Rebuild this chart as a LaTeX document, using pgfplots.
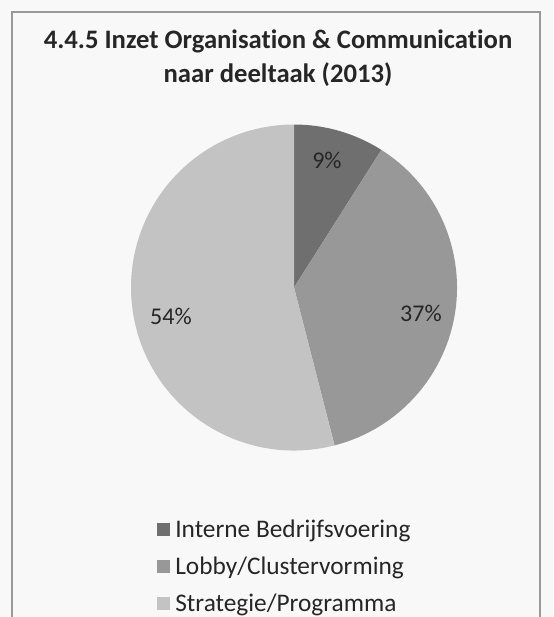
\documentclass[border=0pt]{standalone}
\usepackage{pgfplots}
\pgfplotsset{compat=1.18}
\usepackage{fontspec}
\setmainfont{Carlito}[Ligatures=NoCommon]
\definecolor{cA}{HTML}{6F6F6F}
\definecolor{cB}{HTML}{989898}
\definecolor{cC}{HTML}{C3C3C3}
\definecolor{txt}{HTML}{262626}
\definecolor{bg}{HTML}{F8F8F8}
\definecolor{frame}{HTML}{9A9A9A}
\begin{document}
\begin{tikzpicture}[x=0.75pt,y=-0.75pt]
\useasboundingbox (0,0) rectangle (553,617);
\fill[bg] (0,0) rectangle (553,617);
\begin{scope}
\clip (0,0) rectangle (553,617);
\draw[frame, line width=1.2pt] (12,12) rectangle (540,660);
\end{scope}
\node[font=\bfseries\fontsize{20}{26}\selectfont, align=center, text=txt] at (278,58) {4.4.5 Inzet Organisation \& Communication\\naar deeltaak (2013)};
\coordinate (pc) at (294,287.5);
\begin{axis}[
  at={(pc)}, anchor=center,
  x=122.25pt, y=122.25pt,
  xmin=-1, xmax=1, ymin=-1, ymax=1,
  hide axis, clip=false,
  legend style={draw=none, fill=none, at={(0.068,-0.195)}, anchor=north west,
    font=\fontsize{19}{23}\selectfont, text=txt, row sep=9.1pt,
    legend cell align=left},
  legend image code/.code={\fill[#1] (0pt,-4.5pt) rectangle (9pt,4.5pt); \path (11pt,0pt);},
]
\addlegendimage{cA}
\addlegendentry{Interne Bedrijfsvoering}
\addlegendimage{cB}
\addlegendentry{Lobby/Clustervorming}
\addlegendimage{cC}
\addlegendentry{Strategie/Programma}
% values: 9, 37, 54 (percent)
\fill[cA] (axis cs:0,0) -- ++(90:122.25pt) arc[start angle=90, end angle={90-9*3.6}, radius=122.25pt] -- cycle;
\fill[cB] (axis cs:0,0) -- ++({90-9*3.6}:122.25pt) arc[start angle={90-9*3.6}, end angle={90-46*3.6}, radius=122.25pt] -- cycle;
\fill[cC] (axis cs:0,0) -- ++({90-46*3.6}:122.25pt) arc[start angle={90-46*3.6}, end angle={90-100*3.6}, radius=122.25pt] -- cycle;
\node[font=\fontsize{18}{22}\selectfont, text=txt] at (axis cs:0.202,0.782) {9\%};
\node[font=\fontsize{18}{22}\selectfont, text=txt] at (axis cs:0.779,-0.156) {37\%};
\node[font=\fontsize{18}{22}\selectfont, text=txt] at (axis cs:-0.755,-0.175) {54\%};
\end{axis}
\end{tikzpicture}
\end{document}
